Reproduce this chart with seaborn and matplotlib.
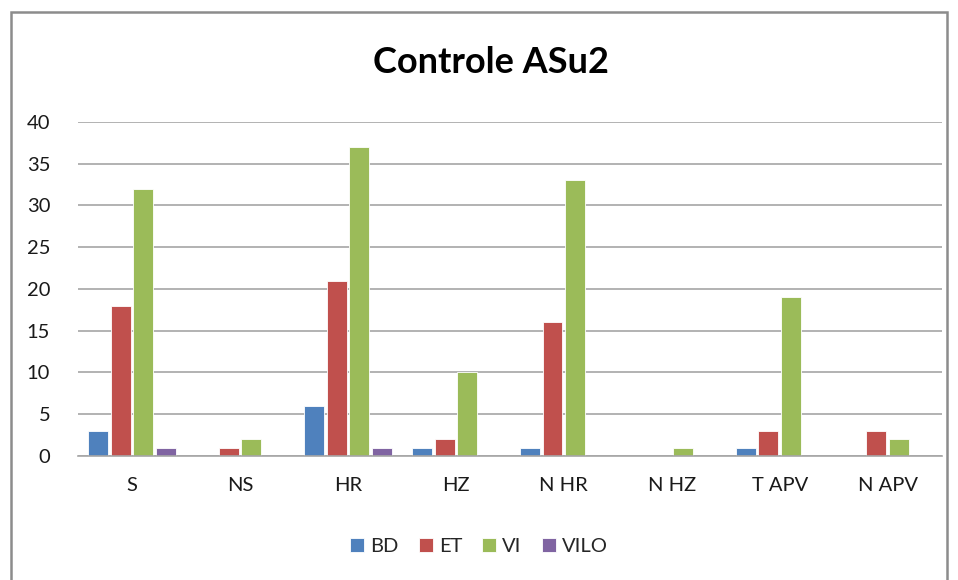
#!/usr/bin/env python3
"""Grouped bar chart: Controle ASu2."""

import matplotlib.pyplot as plt
import pandas as pd
import seaborn as sns
from matplotlib.patches import Rectangle

CATEGORIES = ["S", "NS", "HR", "HZ", "N HR", "N HZ", "T APV", "N APV"]
SERIES = ["BD", "ET", "VI", "VILO"]
BD = [3, 0, 6, 1, 1, 0, 1, 0]
ET = [18, 1, 21, 2, 16, 0, 3, 3]
VI = [32, 2, 37, 10, 33, 1, 19, 2]
VILO = [1, 0, 1, 0, 0, 0, 0, 0]
COLORS = ["#4F81BD", "#C0504D", "#9BBB59", "#8064A2"]


def main() -> None:
    sns.set_theme(style="white")
    plt.rcParams["font.family"] = ["Lato", "DejaVu Sans"]

    rows = []
    for name, vals in zip(SERIES, (BD, ET, VI, VILO)):
        for cat, v in zip(CATEGORIES, vals):
            rows.append({"cat": cat, "series": name, "value": v})
    df = pd.DataFrame(rows)

    fig = plt.figure(figsize=(9.58, 5.8), dpi=100)
    ax = fig.add_axes([0.0814, 0.2138, 0.9016, 0.5759])

    sns.barplot(
        data=df,
        x="cat",
        y="value",
        hue="series",
        order=CATEGORIES,
        hue_order=SERIES,
        palette=COLORS,
        saturation=1,
        width=0.84,
        gap=0.12,
        edgecolor="white",
        linewidth=0.6,
        ax=ax,
        legend=True,
    )

    ax.set_ylim(0, 40)
    ax.set_yticks(range(0, 41, 5))
    ax.set_xlim(-0.5, len(CATEGORIES) - 0.5)
    ax.yaxis.grid(True, color="#A6A6A6", linewidth=1.2)
    ax.set_axisbelow(True)
    for s in ("left", "right", "top"):
        ax.spines[s].set_visible(False)
    ax.spines["bottom"].set_color("#A6A6A6")
    ax.spines["bottom"].set_linewidth(1.2)
    ax.tick_params(axis="both", length=0, labelsize=14.5, colors="#1a1a1a")
    ax.tick_params(axis="y", pad=20)
    ax.tick_params(axis="x", pad=15)
    ax.set_xlabel("")
    ax.set_ylabel("")

    fig.text(0.512, 0.893, "Controle ASu2", ha="center", va="center",
             fontsize=26, fontweight="bold", color="black")

    handles, labels = ax.get_legend_handles_labels()
    ax.legend_.remove()
    fig.legend(handles, labels, loc="center", bbox_to_anchor=(0.5, 0.057),
               ncol=4, frameon=False, fontsize=14.5, handlelength=0.7,
               handleheight=0.7, handletextpad=0.3, columnspacing=1.0)

    fig.patches.append(Rectangle((0.011, -0.02), 0.978, 1.0, transform=fig.transFigure,
                                 fill=False, edgecolor="#8C8C8C", linewidth=1.8))

    fig.savefig("out.png", dpi=100)
    plt.close(fig)


if __name__ == "__main__":
    main()
